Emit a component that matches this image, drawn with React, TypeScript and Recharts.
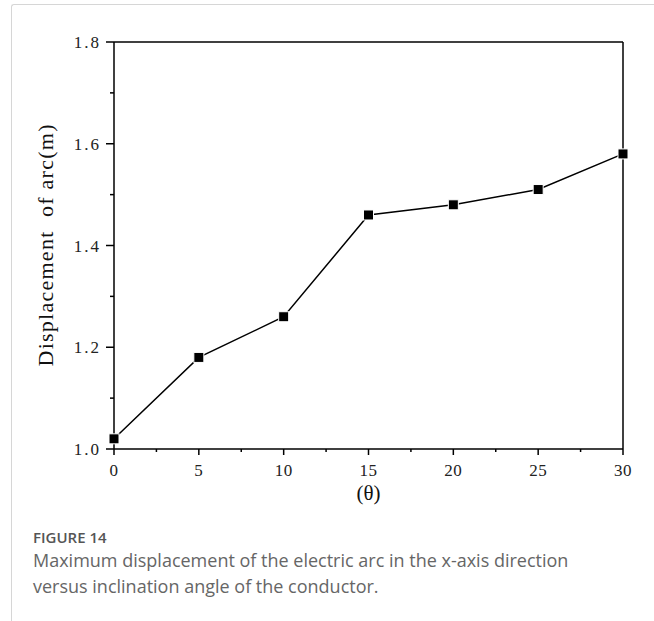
import React from 'react';
import { LineChart, Line, XAxis, YAxis, ReferenceLine } from 'recharts';

const angles = [0, 5, 10, 15, 20, 25, 30];
const displacement = [1.02, 1.18, 1.26, 1.46, 1.48, 1.51, 1.58];
const xMajorTicks = [0, 5, 10, 15, 20, 25, 30];
const xMinorTicks = [2.5, 7.5, 12.5, 17.5, 22.5, 27.5];
const yMajorTicks = [1.0, 1.2, 1.4, 1.6, 1.8];
const yMinorTicks = [1.1, 1.3, 1.5, 1.7];
const xAxisTitle = '(θ)';
const yAxisTitle = 'Displacement\u00a0\u00a0of arc(m)';
const figureLabel = 'FIGURE 14';
const captionText =
  'Maximum displacement of the electric arc in the x-axis direction versus inclination angle of the conductor.';

const data = angles.map((a, i) => ({ angle: a, value: displacement[i] }));
const xAllTicks = [...xMajorTicks, ...xMinorTicks].sort((a, b) => a - b);
const yAllTicks = [...yMajorTicks, ...yMinorTicks].sort((a, b) => a - b);

const isIn = (arr: number[], v: number) => arr.some((m) => Math.abs(m - v) < 1e-6);

const tickFont = '"Liberation Serif", "Times New Roman", serif';

const XTick = (props: any) => {
  const { x, y, payload } = props;
  const major = isIn(xMajorTicks, payload.value);
  return (
    <g>
      <line x1={x} y1={y} x2={x} y2={y + (major ? 6 : 3)} stroke="#000" strokeWidth={1.5} />
      {major && (
        <text x={x} y={y + 27} textAnchor="middle" fontSize={17} fontFamily={tickFont} fill="#222" letterSpacing={0.5}>
          {String(payload.value)}
        </text>
      )}
    </g>
  );
};

const YTick = (props: any) => {
  const { x, y, payload } = props;
  const major = isIn(yMajorTicks, payload.value);
  return (
    <g>
      <line x1={x} y1={y} x2={x - (major ? 8 : 4)} y2={y} stroke="#000" strokeWidth={1.5} />
      {major && (
        <text x={x - 13} y={y + 6} textAnchor="end" fontSize={17} fontFamily={tickFont} fill="#222" letterSpacing={2}>
          {Number(payload.value).toFixed(1)}
        </text>
      )}
    </g>
  );
};

const YLabel = (props: any) => {
  const vb = props.viewBox || { y: 42, height: 407 };
  const cy = vb.y + vb.height / 2;
  const cx = 53;
  return (
    <text
      x={cx}
      y={cy}
      transform={`rotate(-90 ${cx} ${cy})`}
      textAnchor="middle"
      fontSize={22}
      fontFamily={tickFont}
      fill="#111"
      textLength={242}
      lengthAdjust="spacing"
    >
      {yAxisTitle}
    </text>
  );
};

const XLabel = (props: any) => {
  const vb = props.viewBox || { x: 114, width: 509, y: 449 };
  const cx = vb.x + vb.width / 2;
  return (
    <text x={cx} y={500} textAnchor="middle" fontSize={21} fontFamily={tickFont} fill="#111">
      {xAxisTitle}
    </text>
  );
};

const SquareDot = (props: any) => {
  const { cx, cy, index } = props;
  if (cx == null || cy == null) return null;
  return <rect key={`d${index}`} x={cx - 5} y={cy - 5} width={10} height={10} fill="#000" stroke="#fff" strokeWidth={1} />;
};

export default function App() {
  return (
    <div
      style={{
        position: 'absolute',
        left: 0,
        top: 0,
        width: 654,
        height: 621,
        background: '#fff',
        overflow: 'hidden',
      }}
    >
      <div
        style={{
          position: 'absolute',
          left: 11,
          top: 4,
          right: -4,
          bottom: -4,
          borderTop: '1.5px solid #d6d6d6',
          borderLeft: '1.5px solid #d6d6d6',
          borderTopLeftRadius: 3,
        }}
      />
      <div style={{ position: 'absolute', left: 0, top: 0 }}>
        <LineChart width={654} height={520} data={data} margin={{ top: 42, right: 31, bottom: 31, left: 54 }}>
          <XAxis
            dataKey="angle"
            type="number"
            domain={[0, 30]}
            ticks={xAllTicks}
            interval={0}
            tickSize={0}
            tickMargin={0}
            tickLine={false}
            tick={<XTick />}
            height={40}
            axisLine={{ stroke: '#000', strokeWidth: 1.5 }}
            label={<XLabel />}
          />
          <YAxis
            type="number"
            domain={[1.0, 1.8]}
            ticks={yAllTicks}
            interval={0}
            tickSize={0}
            tickMargin={0}
            tickLine={false}
            tick={<YTick />}
            width={60}
            axisLine={{ stroke: '#000', strokeWidth: 1.5 }}
            label={<YLabel />}
            allowDataOverflow
          />
          <ReferenceLine y={1.8} stroke="#000" strokeWidth={1.5} />
          <ReferenceLine x={30} stroke="#000" strokeWidth={1.5} />
          <Line
            dataKey="value"
            stroke="#000"
            strokeWidth={1.5}
            isAnimationActive={false}
            dot={<SquareDot />}
            activeDot={false}
          />
        </LineChart>
      </div>
      <div
        style={{
          position: 'absolute',
          left: 33,
          top: 527,
          width: 600,
          fontFamily: '"Open Sans", "Noto Sans", sans-serif',
        }}
      >
        <div style={{ fontSize: 15, fontWeight: 600, lineHeight: '20px', color: '#555' }}>{figureLabel}</div>
        <div style={{ fontSize: 18, lineHeight: '26px', color: '#666', width: 565 }}>{captionText}</div>
      </div>
    </div>
  );
}
